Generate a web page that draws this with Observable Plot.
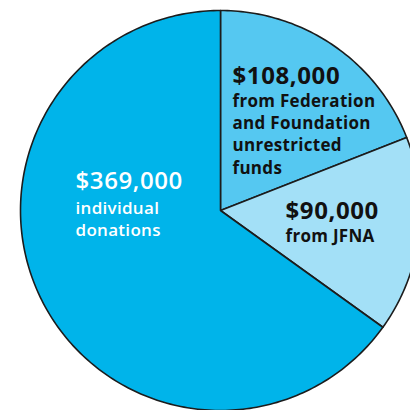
<!DOCTYPE html>
<html>
<head>
<meta charset="utf-8">
<script src="https://cdn.jsdelivr.net/npm/d3@7"></script>
<script src="https://cdn.jsdelivr.net/npm/@observablehq/plot@0.6"></script>
<style>
  html, body { margin: 0; padding: 0; background: #ffffff; }
  #chart { width: 410px; height: 410px; overflow: hidden; }
  #chart text { letter-spacing: 0.3px; }
  #chart g[font-size="24"] text { letter-spacing: 0.6px; }
</style>
</head>
<body>
<div id="chart"></div>
<script>
// ---- data (clockwise from 12 o'clock) ----
const categories = ["Federation and Foundation unrestricted funds", "JFNA", "individual donations"];
const values = [108000, 90000, 369000];
const amountLabels = ["$108,000", "$90,000", "$369,000"];
const descriptions = [
  ["from Federation", "and Foundation", "unrestricted", "funds"],
  ["from JFNA"],
  ["individual", "donations"]
];

// ---- styles / layout (kept separate from the data) ----
const sliceColors = ["#55c8f1", "#a3e0f7", "#00b4ea"];
const textColors = ["#111111", "#111111", "#ffffff"];
const textWeights = [700, 700, 600];
// label anchors in pie-radius units (center = 0,0; radius = 1)
const labelPos = [
  {x: 0.06, amountY: 0.635, descY: 0.52},
  {x: 0.325, amountY: -0.04, descY: -0.155},
  {x: -0.725, amountY: 0.11, descY: -0.015}
];
const linePitch = 0.112;

const pie = d3.pie().sort(null).value(d => d.value);
const arcs = pie(categories.map((c, i) => ({key: c, value: values[i], color: sliceColors[i]})));

const slicePoints = [];
for (const a of arcs) {
  slicePoints.push({key: a.data.key, color: a.data.color, x: 0, y: 0});
  const n = Math.max(2, Math.ceil((a.endAngle - a.startAngle) / (Math.PI / 180)));
  for (let k = 0; k <= n; k++) {
    const t = a.startAngle + (a.endAngle - a.startAngle) * k / n;
    slicePoints.push({key: a.data.key, color: a.data.color, x: Math.sin(t), y: Math.cos(t)});
  }
}

const amounts = categories.map((c, i) => ({
  text: amountLabels[i], x: labelPos[i].x, y: labelPos[i].amountY, color: textColors[i], w: textWeights[i]
}));
const descLines = [];
descriptions.forEach((lines, i) => {
  lines.forEach((t, j) => descLines.push({
    text: t, x: labelPos[i].x, y: labelPos[i].descY - j * linePitch, color: textColors[i], w: textWeights[i]
  }));
});

const font = "'Open Sans', 'DejaVu Sans', sans-serif";

function textMarks(rows, size) {
  return [700, 600].map(w => Plot.text(rows.filter(r => r.w === w), {
    x: "x", y: "y", text: "text", fill: "color",
    textAnchor: "start", lineAnchor: "bottom",
    fontSize: size, fontWeight: w, fontFamily: font
  }));
}

const chart = Plot.plot({
  width: 410,
  height: 410,
  margin: 0,
  x: {domain: [-1.1, 0.95], axis: null},
  y: {domain: [-1.0, 1.05], axis: null},
  color: {type: "identity"},
  marks: [
    Plot.line(slicePoints, {
      x: "x", y: "y", z: "key", fill: "color",
      stroke: "#1c1c1c", strokeWidth: 1.6, curve: "linear-closed"
    }),
    ...textMarks(amounts, 24),
    ...textMarks(descLines, 17)
  ]
});
document.getElementById("chart").appendChild(chart);
</script>
</body>
</html>
